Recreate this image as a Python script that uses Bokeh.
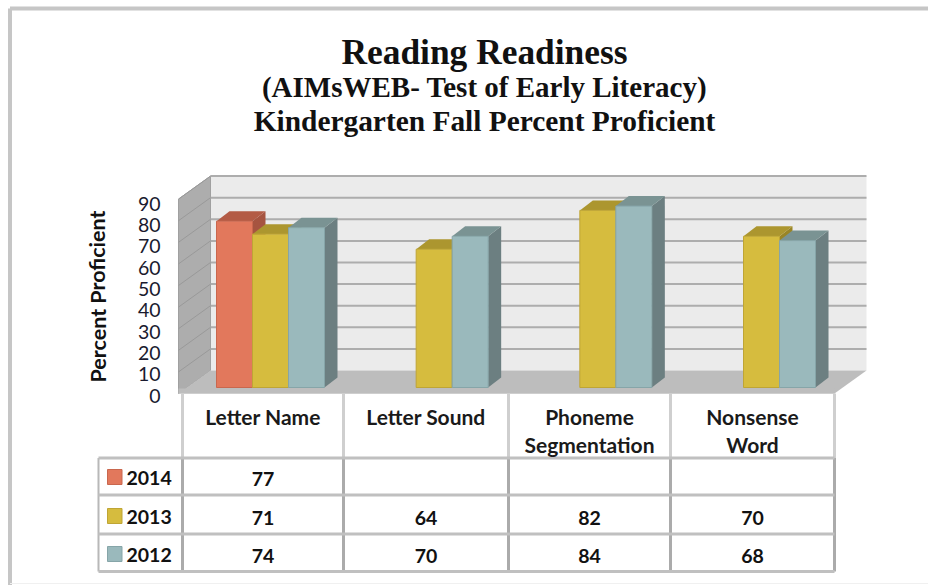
from bokeh.plotting import figure
from bokeh.models import Range1d, LinearAxis, FixedTicker
from bokeh.core.properties import value
from bokeh.embed import file_html
from bokeh.resources import INLINE

title_lines = ["Reading Readiness", "(AIMsWEB- Test of Early Literacy)", "Kindergarten Fall Percent Proficient"]
y_title = "Percent Proficient"
categories = ["Letter Name", "Letter Sound", "Phoneme\nSegmentation", "Nonsense\nWord"]
years = ["2014", "2013", "2012"]
values_2014 = [77, None, None, None]
values_2013 = [71, 64, 82, 70]
values_2012 = [74, 70, 84, 68]
y_ticks = [0, 10, 20, 30, 40, 50, 60, 70, 80, 90]
series = [values_2014, values_2013, values_2012]

face = ["#E2785C", "#D6BC3E", "#9AB9BC"]
edge = ["#C9674E", "#BFA535", "#86A5A8"]
top = ["#B35B45", "#AC962F", "#7A9393"]
side = ["#A65440", "#998526", "#6C7F81"]

W, H = 928, 585
PX_U = 163.67      # pixels per category
PX_V = 2.16        # pixels per percent
X0_PX, Y0_PX = 182.0, 393.0

def X(px):
    return (px - X0_PX) / PX_U

def Y(py):
    return (Y0_PX - py) / PX_V

p = figure(width=W, height=H, output_backend="svg", toolbar_location=None,
           x_range=Range1d(X(0), X(W)), y_range=Range1d(Y(H), Y(0)),
           min_border=0, outline_line_color=None, background_fill_color="white")
p.xaxis.visible = False
p.yaxis.visible = False
p.grid.visible = False
# scale of the printed tick labels, slightly tighter than the bars' scale
LAB_V = 192 / 90
p.extra_y_ranges = {"labels": Range1d((395 - H) / LAB_V, (395 - 0) / LAB_V)}

# picture frame
p.line([X(9.5), X(9.5)], [Y(H), Y(8)], line_color="#C6C6C6", line_width=4)
p.line([X(9.5), X(W)], [Y(8), Y(8)], line_color="#C6C6C6", line_width=4)
p.line([X(9.5), X(W)], [Y(583), Y(583)], line_color="#F0F0F0", line_width=1)

# 3D box
DX_W, DY_W = X(210) - X(178), 23 / PX_V     # wall depth
wall_l = X(178)
wall_r = X(834)
top_v = y_ticks[-1]
p.quad(left=[wall_l + DX_W], right=[wall_r + DX_W], bottom=[DY_W], top=[top_v + DY_W],
       fill_color="#EBEBEB", line_color=None)
p.patch([wall_l, wall_l + DX_W, wall_l + DX_W, wall_l], [0, DY_W, top_v + DY_W, top_v],
        fill_color="#ADADAD", line_color="#A0A0A0", line_width=1)
p.patch([wall_l, wall_l + DX_W, wall_r + DX_W, wall_r], [0, DY_W, DY_W, 0],
        fill_color="#BDBDBD", line_color=None)
p.quad(left=[wall_l], right=[wall_r], bottom=[0], top=[Y(388)], fill_color="#BDBDBD", line_color=None)
p.segment(x0=[wall_l + DX_W] * 9, x1=[wall_r + DX_W] * 9,
          y0=[t + DY_W for t in y_ticks[1:]], y1=[t + DY_W for t in y_ticks[1:]],
          line_color="#ADADAD", line_width=2)
p.segment(x0=[wall_l] * 9, x1=[wall_l + DX_W] * 9,
          y0=y_ticks[1:], y1=[t + DY_W for t in y_ticks[1:]],
          line_color="#999999", line_width=1)

# bars
BAR_W = X(252) - X(216)
BASE = Y(387)
DX_B, DY_B = 13 / PX_U, 10 / PX_V
SLOT0 = X(216)
for i, vals in enumerate(series):
    for c, v in enumerate(vals):
        if v is None:
            continue
        l = SLOT0 + c + i * BAR_W
        r = l + BAR_W
        t = BASE + v
        p.patch([r, r + DX_B, r + DX_B, r], [BASE, BASE + DY_B, t + DY_B, t],
                fill_color=side[i], line_color=None)
        p.patch([l, l + DX_B, r + DX_B, r], [t, t + DY_B, t + DY_B, t],
                fill_color=top[i], line_color=None)
        p.quad(left=[l], right=[r], bottom=[BASE], top=[t], fill_color=face[i],
               line_color=edge[i], line_width=1)

# y axis drawn inside the frame
ax = LinearAxis(fixed_location=X(160), ticker=FixedTicker(ticks=y_ticks), y_range_name="labels")
ax.axis_line_color = None
ax.major_tick_line_color = None
ax.minor_tick_line_color = None
ax.major_tick_in = 0
ax.major_tick_out = 0
ax.major_label_standoff = 0
ax.major_label_text_font = "Lato"
ax.major_label_text_font_size = "19.5px"
ax.major_label_text_color = "#1A1A2E"
p.add_layout(ax, "left")

p.text([X(97)], [Y(296)], text=[y_title], angle=1.5708, text_font=value("Lato"),
       text_font_style="bold", text_font_size="21.5px", text_color="#111111",
       text_align="center", text_baseline="middle")

# title
for line, py, size in zip(title_lines, [51, 86, 120], ["35.4px", "29px", "29.4px"]):
    p.text([X(484)], [Y(py)], text=[line], text_font=value("Liberation Serif"),
           text_font_style="bold", text_font_size=size, text_color="#111111",
           text_align="center", text_baseline="middle")

# data table
col_px = [182, 343, 508, 670, 834]
row_px = [457.5, 494.5, 533.5, 571]
col_x = [X(c) for c in col_px]
p.segment(x0=col_x, x1=col_x, y0=[Y(393)] * 5, y1=[Y(row_px[0])] * 5, line_color="#CFCFCF", line_width=3)
p.segment(x0=col_x, x1=col_x, y0=[Y(row_px[0])] * 5, y1=[Y(row_px[-1])] * 5, line_color="#ABABAB", line_width=3)
p.segment(x0=[X(98)], x1=[X(98)], y0=[Y(row_px[0])], y1=[Y(row_px[-1])],
          line_color="#B8B8B8", line_width=2)
p.segment(x0=[X(98)] * 4, x1=[X(834)] * 4, y0=[Y(r) for r in row_px], y1=[Y(r) for r in row_px],
          line_color="#C0C0C0", line_width=3)

for c, cat in enumerate(categories):
    cx = (col_x[c] + col_x[c + 1]) / 2
    lines = cat.split("\n")
    for k, line in enumerate(lines):
        p.text([cx], [Y(416 + 27.5 * k)], text=[line], text_font=value("Lato"), text_font_style="bold",
               text_font_size="21px", text_color="#1A1A1A", text_align="center", text_baseline="middle")

row_cy = [478, 517, 555]
for i, (yr, vals) in enumerate(zip(years, series)):
    py = row_cy[i]
    p.quad(left=[X(107)], right=[X(121.5)], bottom=[Y(py + 6)], top=[Y(py - 9)],
           fill_color=face[i], line_color=edge[i], line_width=1)
    p.text([X(126)], [Y(py - 1)], text=[yr], text_font=value("Lato"), text_font_style="bold",
           text_font_size="19.5px", text_color="#111111", text_align="left", text_baseline="middle")
    for c, v in enumerate(vals):
        if v is None:
            continue
        p.text([(col_x[c] + col_x[c + 1]) / 2], [Y(py)], text=[str(v)], text_font=value("Lato"),
               text_font_style="bold", text_font_size="19.5px", text_color="#111111",
               text_align="center", text_baseline="middle")

open("out.html", "w").write(file_html(p, INLINE))
